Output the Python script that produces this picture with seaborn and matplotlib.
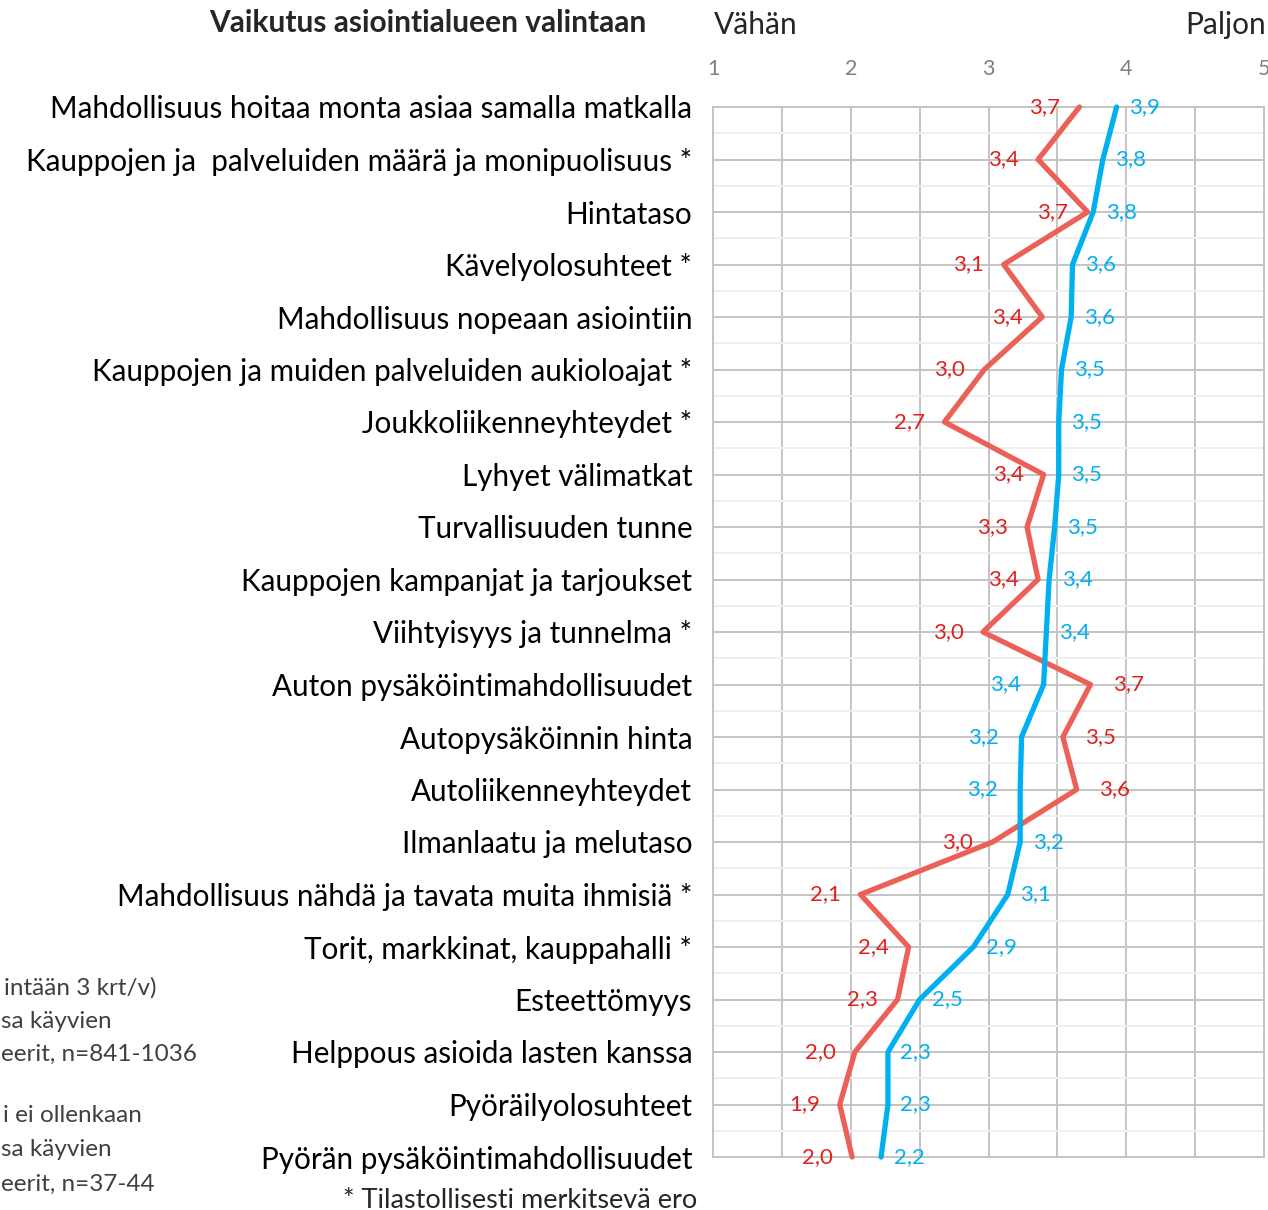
import numpy as np
import pandas as pd
import matplotlib
matplotlib.use('Agg')
import matplotlib.pyplot as plt
import seaborn as sns

# Rows, top to bottom
items = [
    'Mahdollisuus hoitaa monta asiaa samalla matkalla',
    'Kauppojen ja  palveluiden määrä ja monipuolisuus *',
    'Hintataso',
    'Kävelyolosuhteet *',
    'Mahdollisuus nopeaan asiointiin',
    'Kauppojen ja muiden palveluiden aukioloajat *',
    'Joukkoliikenneyhteydet *',
    'Lyhyet välimatkat',
    'Turvallisuuden tunne',
    'Kauppojen kampanjat ja tarjoukset',
    'Viihtyisyys ja tunnelma *',
    'Auton pysäköintimahdollisuudet',
    'Autopysäköinnin hinta',
    'Autoliikenneyhteydet',
    'Ilmanlaatu ja melutaso',
    'Mahdollisuus nähdä ja tavata muita ihmisiä *',
    'Torit, markkinat, kauppahalli *',
    'Esteettömyys',
    'Helppous asioida lasten kanssa',
    'Pyöräilyolosuhteet',
    'Pyörän pysäköintimahdollisuudet',
]

# red series (harvoin / ei ollenkaan käyvät)
red_vals = [3.66, 3.36, 3.72, 3.11, 3.39, 2.97, 2.68, 3.40, 3.28, 3.36, 2.96,
            3.74, 3.54, 3.64, 3.03, 2.07, 2.42, 2.34, 2.03, 1.92, 2.01]
# blue series (vähintään 3 krt/v käyvät)
blue_vals = [3.93, 3.83, 3.76, 3.61, 3.60, 3.53, 3.51, 3.51, 3.48, 3.44, 3.42,
             3.40, 3.24, 3.23, 3.23, 3.14, 2.89, 2.50, 2.27, 2.27, 2.22]

x_ticks = [1, 2, 3, 4, 5]

legend_lines = ['intään 3 krt/v)', 'sa käyvien', 'eerit, n=841-1036',
                'i ei ollenkaan', 'sa käyvien', 'eerit, n=37-44']

RED_LINE = '#EB6158'
RED_TEXT = '#E0201E'
BLUE = '#00B0F0'
GRID = '#C4C4C4'

sns.set_theme(style='white')
plt.rcParams['font.family'] = ['Lato', 'DejaVu Sans']

n = len(items)
df = pd.DataFrame({
    'pos': list(range(n)) * 2,
    'value': red_vals + blue_vals,
    'group': ['red'] * n + ['blue'] * n,
})

fig = plt.figure(figsize=(12.68, 12.10), dpi=100)
ax = fig.add_axes([713 / 1268, 1 - 1157 / 1210, (1264 - 713) / 1268, 1050 / 1210])

sns.lineplot(data=df, x='value', y='pos', hue='group', orient='y',
             palette={'red': RED_LINE, 'blue': BLUE}, linewidth=3.8,
             legend=False, ax=ax, clip_on=False, zorder=3)

ax.set_xlim(1, 5)
ax.set_ylim(n - 1, 0)
ax.set_xticks(x_ticks)
ax.set_xticks(np.arange(1.5, 5, 1.0), minor=True)
ax.set_xticklabels([str(t) for t in x_ticks], fontsize=15.5, color='#7F7F7F')
ax.xaxis.tick_top()
ax.set_yticks(range(n))
ax.set_yticks(np.arange(0.5, n - 1, 1.0), minor=True)
ax.set_yticklabels(items, fontsize=21.3, color='#000000')
ax.tick_params(axis='x', which='both', length=0, pad=20)
ax.tick_params(axis='y', which='both', length=0, pad=15)
ax.set_xlabel('')
ax.set_ylabel('')

ax.grid(True, axis='x', which='both', color=GRID, linewidth=1.4)
ax.grid(True, axis='y', which='major', color=GRID, linewidth=1.4)
ax.grid(True, axis='y', which='minor', color='#EEEEEE', linewidth=1.4)
ax.set_axisbelow(True)
for s in ax.spines.values():
    s.set_color(GRID)
    s.set_linewidth(1.4)

# data labels: the bigger value goes right, the smaller left
def fmt(v):
    return f'{v:.1f}'.replace('.', ',')

for i, (r, b) in enumerate(zip(red_vals, blue_vals)):
    red_right = r > b
    ax.annotate(fmt(r), (r, i), xytext=(16 if red_right else -14, 0),
                textcoords='offset points', ha='left' if red_right else 'right',
                va='center', fontsize=16, color=RED_TEXT, zorder=4)
    ax.annotate(fmt(b), (b, i), xytext=(-16 if red_right else 9, 0),
                textcoords='offset points', ha='right' if red_right else 'left',
                va='center', fontsize=16, color=BLUE, zorder=4)

# headings
fig.text(646 / 1268, 1 - 23 / 1210, 'Vaikutus asiointialueen valintaan',
         ha='right', va='center', fontsize=21.5, fontweight='bold')
fig.text(714 / 1268, 1 - 25 / 1210, 'Vähän', ha='left', va='center', fontsize=21.5)
fig.text(1266 / 1268, 1 - 25 / 1210, 'Paljon', ha='right', va='center', fontsize=21.5)

fig.text(697 / 1268, 1 - 1200 / 1210, '* Tilastollisesti merkitsevä ero',
         ha='right', va='center', fontsize=19.5)

# legend text remnants at the left edge
legend_y = [988, 1021, 1054, 1116, 1150, 1184]
legend_left = [4, 1, 1, 3, 1, 1]
for txt, yy, xl in zip(legend_lines, legend_y, legend_left):
    fig.text(xl / 1268, 1 - yy / 1210, txt, ha='left', va='center',
             fontsize=17.5, color='#404040')

fig.savefig('out.png', dpi=100)
